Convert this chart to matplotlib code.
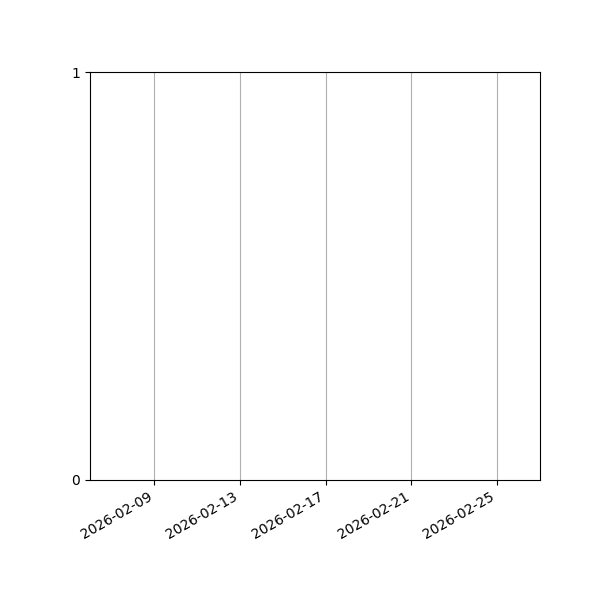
import matplotlib

matplotlib.use("Agg")
import matplotlib.pyplot as plt
import matplotlib.dates as mdates
import numpy as np

# empty series - the reference shows no marks
dates = np.array([], dtype="datetime64[D]")
values = []

x_start = np.datetime64("2026-02-06")
x_end = np.datetime64("2026-02-27")
tick_dates = [np.datetime64(d) for d in
              ["2026-02-09", "2026-02-13", "2026-02-17", "2026-02-21", "2026-02-25"]]

fig, ax = plt.subplots(figsize=(6, 6), dpi=100)
ax.plot(dates, values)

ax.set_xlim(x_start, x_end)
ax.set_ylim(0, 1)
ax.set_yticks([0, 1])
ax.set_xticks(tick_dates)
ax.xaxis.set_major_formatter(mdates.DateFormatter("%Y-%m-%d"))
ax.grid(True, axis="x", color="#b0b0b0", linewidth=0.8)

fig.autofmt_xdate()
fig.subplots_adjust(left=0.15, right=0.9, top=0.88, bottom=0.2)
fig.savefig("out.png", dpi=100)
plt.close(fig)
